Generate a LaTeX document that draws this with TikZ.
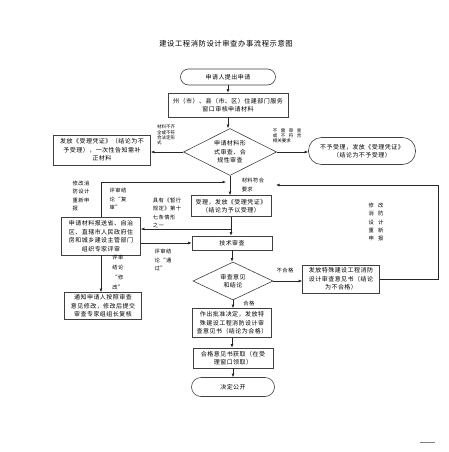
\documentclass[tikz,border=0pt]{standalone}
\usepackage{fontspec}
\setmainfont{Noto Sans CJK SC}
\newfontfamily\cjksp[LetterSpace=8]{Noto Sans CJK SC}
\usetikzlibrary{shapes.geometric,arrows.meta}
\begin{document}
\begin{tikzpicture}[x=1pt,y=-1pt,
  box/.style={draw=black!75,line width=0.6pt,align=center,inner sep=1pt,fill=white,
    font=\cjksp\fontsize{6}{8.5}\selectfont},
  term/.style={box,rounded corners=8pt},
  dia/.style={box,diamond,aspect=2,inner sep=0pt},
  lab/.style={align=left,inner sep=0pt,font=\cjksp\fontsize{5.3}{8.3}\selectfont},
  tinylab/.style={align=left,inner sep=0pt,font=\fontsize{4.5}{5.2}\selectfont},
  conn/.style={draw=black!85,line width=0.6pt,-{Latex[length=3.5pt,width=2.8pt]}},
  plainline/.style={draw=black!85,line width=0.6pt}
]
\useasboundingbox[fill=white] (0,0) rectangle (449,452);

\node[font=\cjksp\fontsize{7.3}{9}\selectfont] (title) at (226,44) {建设工程消防设计审查办事流程示意图};

\node[term,minimum width=95pt,minimum height=16pt] (start) at (228,77) {申请人提出申请};
\node[box,minimum width=120pt,minimum height=24pt] (box2) at (228,105) {州（市）、县（市、区）住建部门服务\\窗口审核申请材料};
\node[dia,minimum width=93pt,minimum height=47pt] (d1) at (230,152) {申请材料形\\式审查、合\\规性审查};
\node[box,minimum width=97pt,minimum height=30pt] (rej1) at (102,150) {发放《受理凭证》（结论为不\\予受理），一次性告知需补\\正材料};
\node[box,rounded corners=13pt,minimum width=107pt,minimum height=27pt] (rej2) at (362,151) {不予受理，发放《受理凭证》\\（结论为不予受理）};
\node[box,minimum width=80pt,minimum height=21pt] (accept) at (231,206) {受理，发放《受理凭证》\\（结论为予以受理）};
\node[box,minimum width=80pt,minimum height=14pt] (tech) at (232,243) {技术审查};
\node[box,minimum width=79pt,minimum height=38pt] (expert) at (101,236) {申请材料报送省、自治\\区、直辖市人民政府住\\房和城乡建设主管部门\\组织专家评审};
\node[box,minimum width=77pt,minimum height=27pt] (notify) at (103,306) {通知申请人按照审查\\意见修改，修改后提交\\审查专家组组长复核};
\node[dia,minimum width=80pt,minimum height=38pt] (d2) at (233,281) {审查意见\\和结论};
\node[box,minimum width=77pt,minimum height=28pt] (fail) at (341,279) {发放特殊建设工程消防\\设计审查意见书（结论\\为不合格）};
\node[box,minimum width=79pt,minimum height=29pt] (pass) at (232,323) {作出批准决定，发放特\\殊建设工程消防设计审\\查意见书（结论为合格）};
\node[box,minimum width=80pt,minimum height=20pt] (get) at (233,358) {合格意见书获取（在受\\理窗口领取）};
\node[box,rounded corners=9.5pt,minimum width=83pt,minimum height=19pt] (pub) at (233,387) {决定公开};

% labels
\node[tinylab] (l1) at (166,135) {材料不齐\\全或不符\\合法定形\\式};
\node[tinylab,fill=white] (l2) at (287,136) {不\hspace{3.5pt}需\hspace{3.5pt}审\hspace{3.5pt}查\\或\hspace{3.5pt}不\hspace{3.5pt}符\hspace{3.5pt}合\\相关要求};
\node[lab] (l3) at (253,185) {材料符合\\要求};
\node[lab] (l4) at (81,196) {修改消\\防设计\\重新申\\报};
\node[lab] (l5) at (118,199) {评审结\\论“复\\审”};
\node[lab] (l6) at (167,213) {具有《暂行\\规定》第十\\七条情形\\之一};
\node[lab] (l7) at (163,260) {评审结\\论“通\\过”};
\node[lab,font=\cjksp\fontsize{5.3}{10}\selectfont] (l8) at (118,272) {评审\\结论\\“修\\改”};
\node[lab] (l9) at (285,270) {不合格};
\node[lab] (l10) at (249,303) {合格};
\node[lab] (l11) at (376,222) {修\hspace{4pt}改\\消\hspace{4pt}防\\设\hspace{4pt}计\\重\hspace{4pt}新\\申\hspace{4pt}报};

% connectors
\draw[conn] (start.south) -- (start.south |- box2.north);
\draw[conn] (box2.south) -- (box2.south |- d1.north);
\draw[conn] (d1.west) -- (rej1.east |- d1.west);
\draw[conn] (d1.east) -- (rej2.west |- d1.east);
\draw[conn] (d1.south) -- (d1.south |- accept.north);
\draw[conn] (accept.south) -- (accept.south |- tech.north);
\coordinate (br) at (231,229);
\draw[conn] (br) -- (expert.east |- br);
\coordinate (j1) at (226,182);
\draw[conn] (expert.north) |- (j1);
\draw[conn] (expert.east |- tech.west) -- (tech.west);
\draw[conn] (expert.south) -- (expert.south |- notify.north);
\draw[conn] (tech.south) -- (tech.south |- d2.north);
\draw[conn] (d2.east) -- (fail.west |- d2.east);
\draw[conn] (d2.south) -- (d2.south |- pass.north);
\draw[conn] (pass.south) -- (pass.south |- get.north);
\draw[conn] (get.south) -- (get.south |- pub.north);
\coordinate (j2) at (276,185);
\draw[conn] (fail.east) -- ++(58,0) |- (j2);

\draw[black!50,line width=0.9pt] (420,442) -- (435,442);
\end{tikzpicture}
\end{document}
